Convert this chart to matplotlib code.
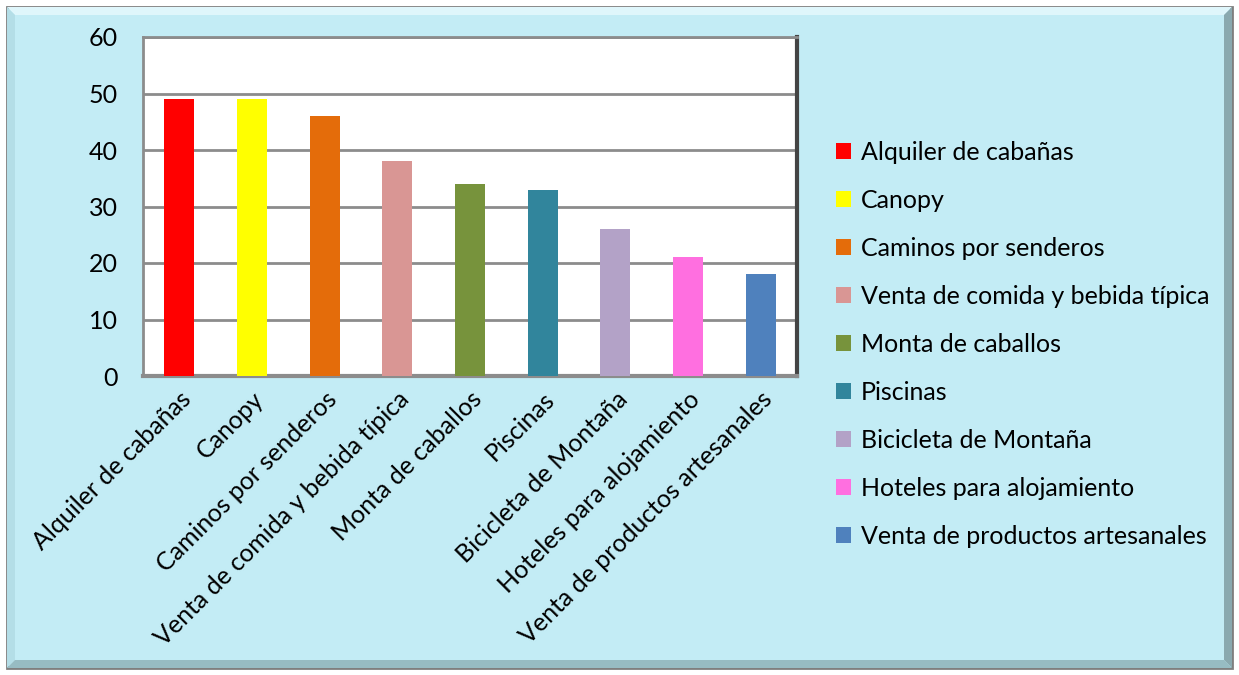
import matplotlib.pyplot as plt
from matplotlib.patches import Rectangle, Polygon

plt.rcParams['font.family'] = ['Lato', 'DejaVu Sans']

# data
categories = ['Alquiler de cabañas', 'Canopy', 'Caminos por senderos',
              'Venta de comida y bebida típica', 'Monta de caballos', 'Piscinas',
              'Bicicleta de Montaña', 'Hoteles para alojamiento',
              'Venta de productos artesanales']
values = [49, 49, 46, 38, 34, 33, 26, 21, 18]
colors = ['#FF0000', '#FFFF00', '#E46C0A', '#D99694', '#77933C',
          '#31859C', '#B3A2C7', '#FF6FE0', '#4F81BD']
yticks = [0, 10, 20, 30, 40, 50, 60]

W, H = 1239, 675
fig = plt.figure(figsize=(W / 100, H / 100), dpi=100)
fig.patch.set_facecolor('white')

# framed light blue panel with a thin bevelled edge
bg = '#C3ECF5'
x0, y0, x1, y1 = 7 / W, 7 / H, 1232 / W, 668 / H
b = 8
fig.patches.append(Rectangle((x0, 1 - y1), x1 - x0, y1 - y0, transform=fig.transFigure,
                             facecolor=bg, edgecolor='#7f7f7f', linewidth=2, zorder=0))
bx, by = b / W, b / H
fig.patches.append(Polygon([(x0, 1 - y0), (x1, 1 - y0), (x1 - bx, 1 - y0 - by), (x0 + bx, 1 - y0 - by)],
                           closed=True, transform=fig.transFigure, facecolor='#DFF6FB',
                           edgecolor='none', zorder=0.1))
fig.patches.append(Polygon([(x0, 1 - y0), (x0 + bx, 1 - y0 - by), (x0 + bx, 1 - y1 + by), (x0, 1 - y1)],
                           closed=True, transform=fig.transFigure, facecolor='#B4DEE7',
                           edgecolor='none', zorder=0.1))
fig.patches.append(Polygon([(x1, 1 - y0), (x1, 1 - y1), (x1 - bx, 1 - y1 + by), (x1 - bx, 1 - y0 - by)],
                           closed=True, transform=fig.transFigure, facecolor='#8AA9AF',
                           edgecolor='none', zorder=0.1))
fig.patches.append(Polygon([(x0, 1 - y1), (x1, 1 - y1), (x1 - bx, 1 - y1 + by), (x0 + bx, 1 - y1 + by)],
                           closed=True, transform=fig.transFigure, facecolor='#97BCC3',
                           edgecolor='none', zorder=0.1))
fig.patches.append(Rectangle((x0 + bx, 1 - y1 + by), x1 - x0 - 2 * bx, y1 - y0 - 2 * by,
                             transform=fig.transFigure, facecolor=bg, edgecolor='none', zorder=0.2))

# plot area: x 143..797, y 37..376 px
ax = fig.add_axes([143 / W, 1 - 376 / H, (797 - 143) / W, (376 - 37) / H])
ax.set_facecolor('white')
ax.set_zorder(1)

xs = range(len(categories))
bars = ax.bar(xs, values, width=0.41, color=colors, zorder=3)
for bar, lab in zip(bars, categories):
    bar.set_label(lab)

ax.set_xlim(-0.5, len(categories) - 0.5)
ax.set_ylim(0, 60)
ax.set_yticks(yticks)
ax.yaxis.grid(True, color='#8C8C8C', linewidth=2, zorder=1)
ax.set_axisbelow(True)
ax.tick_params(axis='y', length=0, pad=18, labelsize=18)
ax.tick_params(axis='x', length=0, pad=8, labelsize=18)
ax.set_xticks(list(xs))
ax.set_xticklabels(categories, rotation=45, ha='right', rotation_mode='anchor')

for side in ['top', 'left']:
    ax.spines[side].set_color('#8C8C8C')
    ax.spines[side].set_linewidth(2)
ax.spines['bottom'].set_color('#8C8C8C')
ax.spines['bottom'].set_linewidth(3)
ax.spines['right'].set_color('#444444')
ax.spines['right'].set_linewidth(3)

leg = fig.legend(handles=list(bars), loc='upper left',
                 bbox_to_anchor=(826 / W, 1 - 131 / H), frameon=False,
                 fontsize=18, handlelength=0.6, handleheight=0.6,
                 handletextpad=0.4, labelspacing=1.0, borderaxespad=0)

fig.savefig('out.png', dpi=100, facecolor=fig.get_facecolor())
